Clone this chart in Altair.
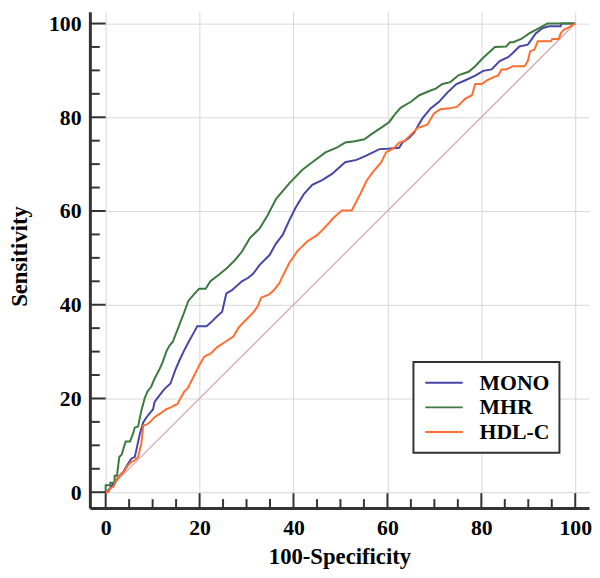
import altair as alt
import pandas as pd

series_names = ["MONO", "MHR", "HDL-C"]
series_colors = ["#4646a8", "#3c7a3e", "#ff6e30"]

mono_x = [0, 0.3, 1.7, 3.1, 3.8, 4.8, 5.5, 6.2, 6.6, 7.3, 8.0, 8.7, 10.1, 10.4,
          11.1, 11.5, 12.5, 13.8, 14.8, 15.7, 16.7, 17.8, 18.8, 19.5, 21.5, 22.7, 23.8, 24.8, 25.7, 26.9, 29.0, 30.3, 31.4, 32.8, 34.9,
          36.3, 37.7, 39.1, 40.5, 42.2, 44.0, 46.1,
          48.2, 51.0, 53.4, 55.5, 58.3, 60.1, 62.5, 63.2, 64.6, 65.7, 66.4, 67.5, 69.2, 71.0, 72.7, 74.7, 76.6, 78.7, 80.4, 82.2,
          83.9, 85.7, 86.7, 88.1, 89.9, 91.6, 93.0, 94.4, 96.9, 97.1, 100]
mono_y = [0, 0, 1.9, 3.7, 4.4, 6.1, 7.2, 7.5, 9.3, 12.5, 14.9, 16.0, 17.7, 19.2,
          20.2, 20.7, 22.0, 23.2, 26.0, 28.1, 30.2, 32.3, 34.1, 35.4, 35.4, 36.5, 37.6, 38.5, 42.4, 43.1, 45.0, 45.7, 46.6, 48.5, 50.6,
          53.1, 54.9, 58.0, 60.8, 63.6, 65.6, 66.6,
          67.9, 70.4, 70.9, 71.8, 73.2, 73.3, 73.5, 74.6, 75.6, 76.7, 78.0, 79.8, 81.9, 83.3, 85.2, 87.1, 87.9, 88.9, 89.9, 90.2,
          92.0, 92.8, 93.7, 95.1, 95.5, 97.9, 99.0, 99.4, 99.4, 100, 100]

mhr_x = [0, 0, 1, 1, 1.9, 1.9, 2.4, 2.9, 3.4, 4, 4.3, 5.2, 5.9, 6.2, 6.9, 7.6,
         8.3, 8.9, 9.7, 10.4, 11.5, 12.0, 13.0, 13.6, 14.3, 15.2, 16.7, 17.6, 18.8, 19.9, 21.3, 22.3, 24.1, 25.8, 27.6, 29.0, 30.7, 32.8, 34.5,
         36.3, 39.1, 41.9, 44.0, 46.8, 49.2, 51.0, 53.1, 55.1, 56.6, 58.7, 60.4, 61.5, 62.8, 65.0, 66.8, 69.2, 70.3, 71.7, 73.4, 75.2,
         77.3, 78.7, 80.4, 82.9, 85.3, 86.1, 86.8, 88.5, 90.2, 92.3, 94.1, 100]
mhr_y = [0, 1.5, 1.5, 2, 2, 3.5, 3.5, 7.5, 8.0, 10, 10.8, 10.8, 12.7, 13.8, 14, 17.4,
         20.0, 21.5, 22.5, 24.2, 26.3, 27.4, 30.2, 31.3, 32.1, 34.4, 38.3, 40.8, 42.2, 43.4, 43.4, 45.0, 46.4, 47.8, 49.6, 51.3, 54.2, 56.3, 59.1,
         62.6, 65.9, 68.8, 70.4, 72.5, 73.5, 74.6, 74.9, 75.3, 76.4, 77.8, 79.0, 80.5, 82.0, 83.3, 84.7, 85.7, 86.1, 87.1, 87.5, 89.0,
         89.7, 90.9, 92.7, 95.0, 95.1, 96.0, 96.0, 96.7, 97.9, 99.0, 100, 100]

hdl_x = [0, 0.6, 1.0, 1.7, 2.0, 2.7, 3.4, 4.1, 4.8, 5.5, 6.2, 6.9, 7.6, 8.0, 8.7, 9.4, 10.4, 11.5, 12.9, 13.9, 14.6, 15.3,
         15.9, 16.7, 17.4, 18.5, 19.9, 20.9, 21.5, 22.3, 23.7, 25.5, 27.2, 28.3, 30.0, 31.4, 32.4, 33.1, 34.8, 35.9, 37.0, 37.7,
         39.1, 40.8, 42.9, 45.1, 46.8, 48.6, 50.3, 52.4, 54.2, 55.6, 56.9, 58.7, 59.7, 61.5, 62.5, 63.6, 65.0, 66.4, 68.5, 69.9,
         71.3, 73.1, 74.8, 76.6, 78.0, 78.7, 80.1, 81.1, 82.5, 83.6, 84.3, 85.3, 86.7, 89.2, 89.9, 90.4, 91.3, 92.0, 94.8, 95.1,
         96.5, 96.9, 97.6, 98.3, 99.0, 100]
hdl_y = [0, 0.1, 0.8, 1.2, 1.9, 3.3, 3.9, 4.7, 5.8, 6.5, 6.8, 7.5, 10.4, 14.2, 14.4, 14.9, 16.0, 16.7, 17.7, 18.1, 18.5, 18.8,
         20.0, 21.4, 22.1, 24.2, 27.0, 28.8, 29.2, 29.5, 30.9, 32.1, 33.2, 35.1, 36.9, 38.3, 39.7, 41.5, 42.2, 43.2, 44.6, 46.1,
         48.9, 51.4, 53.5, 54.9, 56.6, 58.6, 60.1, 60.1, 63.6, 66.5, 68.3, 70.4, 72.5, 73.5, 74.6, 74.9, 76.3, 77.7, 78.4, 80.8,
         81.7, 81.9, 82.2, 84.0, 84.7, 87.1, 87.1, 87.8, 88.5, 88.9, 90.2, 90.2, 90.9, 90.9, 92.0, 94.1, 94.4, 96.2, 96.2, 96.7,
         96.7, 97.9, 98.7, 99.0, 99.4, 100]

diag_x = [0, 100]
diag_y = [0, 100]

major_ticks = [0, 20, 40, 60, 80, 100]
minor_ticks = [v for v in range(0, 101, 5) if v % 20 != 0]

rows = []
for name, xs, ys in [("MONO", mono_x, mono_y), ("MHR", mhr_x, mhr_y), ("HDL-C", hdl_x, hdl_y)]:
    assert len(xs) == len(ys)
    for i, (a, b) in enumerate(zip(xs, ys)):
        rows.append({"series": name, "fpr": a, "tpr": b, "i": i})
curves = pd.DataFrame(rows)
diag = pd.DataFrame({"fpr": diag_x, "tpr": diag_y})
maj = pd.DataFrame({"fpr": major_ticks, "tpr": major_ticks})
mnr = pd.DataFrame({"fpr": minor_ticks, "tpr": minor_ticks})

W, H = 506, 503
xscale = alt.Scale(domain=[-3.36, 102.94], nice=False, zero=False)
yscale = alt.Scale(domain=[-3.37, 102.5], nice=False, zero=False)

FONT = "Liberation Serif"
common_axis = dict(values=major_ticks, grid=True, gridColor="#d6d6d6", gridWidth=1, ticks=False,
                   domainColor="#333333", domainWidth=3, labelFont=FONT, labelFontWeight="bold",
                   labelFontSize=22, labelColor="black", titleFont=FONT, titleFontWeight="bold",
                   titleFontSize=23, titleColor="black", format="d")

x_axis = alt.Axis(title="100-Specificity", labelPadding=10, titlePadding=7, **common_axis)
y_axis = alt.Axis(title="Sensitivity", labelPadding=9, titleX=-71, titleY=H / 2 - 4,
                  titleAngle=270, titleBaseline="middle", titleAlign="center", **common_axis)

X = alt.X("fpr:Q", scale=xscale, axis=x_axis)
Y = alt.Y("tpr:Q", scale=yscale, axis=y_axis)

diag_layer = alt.Chart(diag).mark_line(color="#d4a6a6", strokeWidth=1.2).encode(x=X, y=Y)

curve_layer = alt.Chart(curves).mark_line(strokeWidth=2).encode(
    x=X, y=Y,
    order="i:Q",
    color=alt.Color("series:N", scale=alt.Scale(domain=series_names, range=series_colors),
                    sort=series_names,
                    legend=alt.Legend(orient="none", legendX=328, legendY=355, title=None,
                                      symbolType="M-2,0L2,0", symbolSize=361, symbolStrokeWidth=2,
                                      symbolOffset=10, labelOffset=25,
                                      labelFont=FONT, labelFontWeight="bold", labelFontSize=22,
                                      labelColor="black", strokeColor="#333333",
                                      fillColor="white", padding=10, rowPadding=3)),
)

ytick_major = alt.Chart(maj).mark_rule(color="#333333", strokeWidth=2).encode(
    y=Y, x=alt.value(0), x2=alt.value(16))
ytick_minor = alt.Chart(mnr).mark_rule(color="#333333", strokeWidth=2).encode(
    y=Y, x=alt.value(0), x2=alt.value(10))
xtick_major = alt.Chart(maj).mark_rule(color="#333333", strokeWidth=2).encode(
    x=X, y=alt.value(H), y2=alt.value(H - 15))
xtick_minor = alt.Chart(mnr).mark_rule(color="#333333", strokeWidth=2).encode(
    x=X, y=alt.value(H), y2=alt.value(H - 9))

chart = alt.layer(diag_layer, curve_layer, ytick_major, ytick_minor, xtick_major, xtick_minor).properties(
    width=W, height=H,
    autosize=alt.AutoSizeParams(type="none"),
    padding={"left": 83, "top": 0, "right": 3, "bottom": 59},
).configure_view(stroke=None).configure_legend(strokeWidth=2)

chart.save("out.html", embed_options={"renderer": "svg", "actions": False})
